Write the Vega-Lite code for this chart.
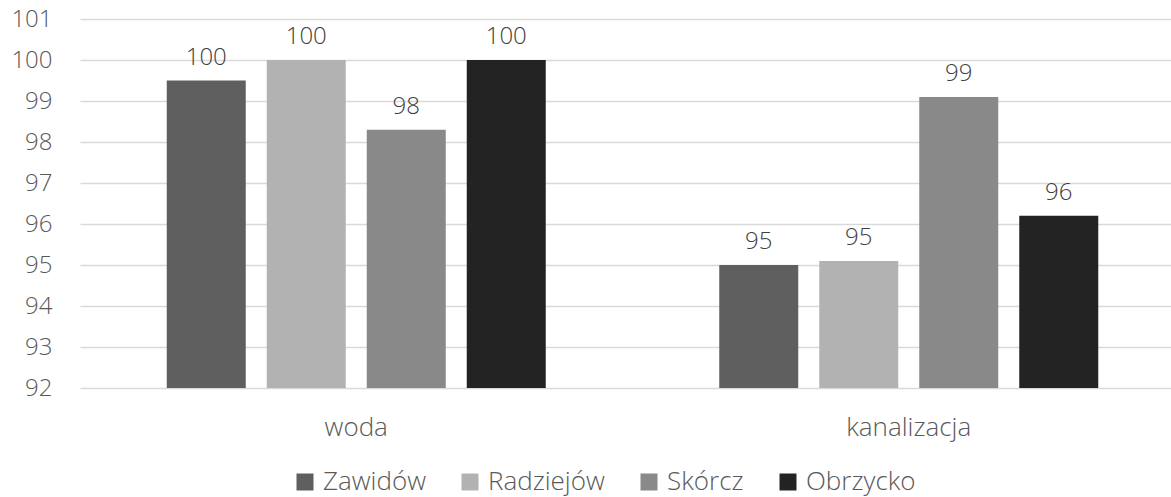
{
  "$schema": "https://vega.github.io/schema/vega-lite/v6.json",
  "width": 1105,
  "height": 369,
  "autosize": "none",
  "padding": {"left": 80, "top": 19, "right": 0, "bottom": 109},
  "background": "white",
  "config": {
    "font": "Open Sans",
    "view": {"stroke": null},
    "axis": {"labelFont": "Open Sans", "labelFontWeight": 300, "labelColor": "#595959"}
  },
  "data": {
    "values": [
      {"kategoria": "woda", "gmina": "Zawidów", "wartosc": 99.5},
      {"kategoria": "woda", "gmina": "Radziejów", "wartosc": 100},
      {"kategoria": "woda", "gmina": "Skórcz", "wartosc": 98.3},
      {"kategoria": "woda", "gmina": "Obrzycko", "wartosc": 100},
      {"kategoria": "kanalizacja", "gmina": "Zawidów", "wartosc": 95.0},
      {"kategoria": "kanalizacja", "gmina": "Radziejów", "wartosc": 95.1},
      {"kategoria": "kanalizacja", "gmina": "Skórcz", "wartosc": 99.1},
      {"kategoria": "kanalizacja", "gmina": "Obrzycko", "wartosc": 96.2}
    ]
  },
  "encoding": {
    "x": {
      "field": "kategoria", "type": "nominal", "sort": ["woda", "kanalizacja"],
      "scale": {"paddingInner": 0, "paddingOuter": 0},
      "axis": {"title": null, "labelAngle": 0, "ticks": false, "domain": false, "labelPadding": 26, "grid": false, "labelFontSize": 26}
    },
    "xOffset": {
      "field": "gmina", "type": "nominal", "sort": ["Zawidów", "Radziejów", "Skórcz", "Obrzycko"],
      "scale": {"paddingInner": 0.21, "paddingOuter": 0.8675}
    },
    "y": {
      "field": "wartosc", "type": "quantitative",
      "scale": {"domain": [92, 101], "zero": false, "nice": false},
      "axis": {"title": null, "values": [92, 93, 94, 95, 96, 97, 98, 99, 100, 101], "ticks": false, "domain": false, "labelPadding": 28, "labelFontSize": 24, "gridColor": "#d9d9d9", "gridWidth": 1.3}
    }
  },
  "layer": [
    {
      "mark": {"type": "bar", "clip": true},
      "encoding": {
        "color": {
          "field": "gmina", "type": "nominal", "sort": ["Zawidów", "Radziejów", "Skórcz", "Obrzycko"],
          "scale": {"domain": ["Zawidów", "Radziejów", "Skórcz", "Obrzycko"], "range": ["#5f5f5f", "#b2b2b2", "#898989", "#232323"]},
          "legend": {
            "title": null, "orient": "none", "direction": "horizontal", "columns": 4,
            "legendX": 212, "legendY": 450,
            "symbolType": "square", "symbolSize": 289, "symbolStrokeWidth": 0,
            "labelFont": "Open Sans", "labelFontWeight": 300, "labelFontSize": 26, "labelColor": "#595959",
            "labelOffset": 5, "columnPadding": 31
          }
        }
      }
    },
    {
      "mark": {"type": "text", "baseline": "alphabetic", "dy": -16, "font": "Open Sans", "fontWeight": 300, "fontSize": 24, "color": "#404040"},
      "encoding": {
        "text": {"field": "wartosc", "type": "quantitative", "format": ".0f"}
      }
    }
  ]
}
